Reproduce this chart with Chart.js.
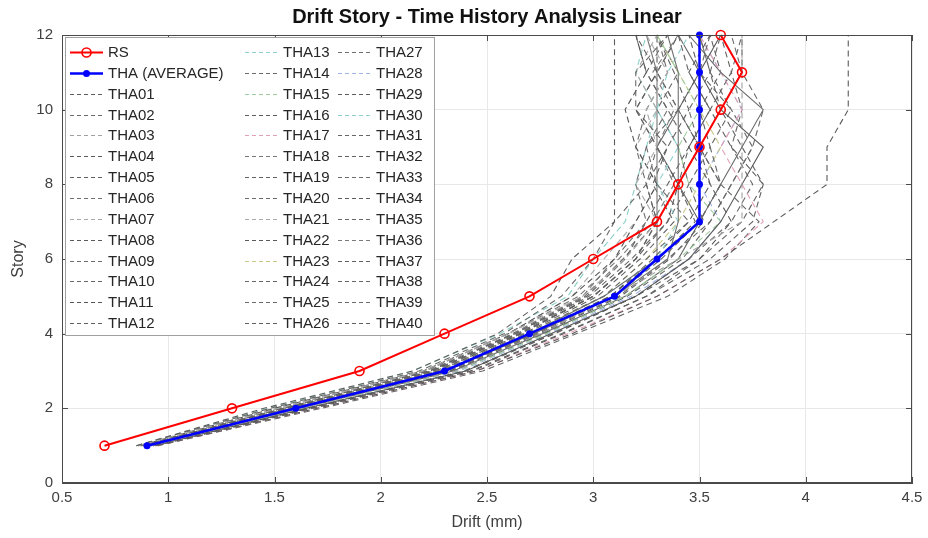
<!DOCTYPE html>
<html>
<head>
<meta charset="utf-8">
<title>Drift Story</title>
<script src="https://cdn.jsdelivr.net/npm/chart.js@4.4.1/dist/chart.umd.min.js"></script>
<style>
  html, body { margin: 0; padding: 0; background: #fff; }
</style>
</head>
<body>
<canvas id="driftChart" width="928" height="538"></canvas>
<script>
// story levels (y axis)
const stories = [1, 2, 3, 4, 5, 6, 7, 8, 9, 10, 11, 12];
// drift (mm) per story
const rs     = [0.7, 1.3, 1.9, 2.3, 2.7, 3.0, 3.3, 3.4, 3.5, 3.6, 3.7, 3.6];
const thaAvg = [0.9, 1.6, 2.3, 2.7, 3.1, 3.3, 3.5, 3.5, 3.5, 3.5, 3.5, 3.5];
const xTicks = [0.5, 1, 1.5, 2, 2.5, 3, 3.5, 4, 4.5];

const tha01 = [0.85, 1.45, 2.15, 2.55, 2.80, 2.90, 3.10, 3.10, 3.10, 3.10, 3.10, 3.10];
const tha02 = [0.90, 1.60, 2.30, 2.70, 3.05, 3.30, 3.50, 3.60, 3.70, 3.80, 3.60, 3.45];
const tha03 = [0.92, 1.62, 2.35, 2.75, 3.10, 3.40, 3.70, 3.70, 3.70, 3.70, 3.70, 3.70];
const tha04 = [0.95, 1.70, 2.45, 2.90, 3.30, 3.60, 3.85, 4.10, 4.10, 4.20, 4.20, 4.20];
const tha05 = [0.88, 1.55, 2.25, 2.65, 3.00, 3.20, 3.30, 3.25, 3.35, 3.20, 3.30, 3.20];
const tha06 = [0.90, 1.58, 2.30, 2.70, 3.10, 3.35, 3.40, 3.40, 3.40, 3.40, 3.40, 3.35];
const tha07 = [0.86, 1.52, 2.20, 2.60, 2.95, 3.15, 3.30, 3.20, 3.30, 3.25, 3.35, 3.25];
const tha08 = [0.93, 1.65, 2.40, 2.80, 3.20, 3.45, 3.60, 3.70, 3.80, 3.60, 3.50, 3.60];
const tha09 = [0.89, 1.58, 2.28, 2.68, 3.05, 3.25, 3.45, 3.30, 3.25, 3.40, 3.30, 3.40];
const tha10 = [0.91, 1.60, 2.32, 2.72, 3.10, 3.30, 3.50, 3.60, 3.55, 3.65, 3.50, 3.55];
const tha11 = [0.87, 1.50, 2.20, 2.60, 2.90, 3.10, 3.20, 3.30, 3.20, 3.15, 3.25, 3.20];
const tha12 = [0.94, 1.68, 2.42, 2.85, 3.25, 3.55, 3.75, 3.80, 3.70, 3.60, 3.70, 3.70];
const tha13 = [0.90, 1.60, 2.30, 2.70, 3.05, 3.30, 3.40, 3.30, 3.40, 3.30, 3.35, 3.45];
const tha14 = [0.85, 1.48, 2.18, 2.58, 2.85, 3.00, 3.10, 3.25, 3.30, 3.20, 3.20, 3.35];
const tha15 = [0.92, 1.63, 2.36, 2.78, 3.15, 3.40, 3.60, 3.45, 3.40, 3.50, 3.40, 3.30];
const tha16 = [0.88, 1.56, 2.27, 2.66, 3.00, 3.20, 3.35, 3.40, 3.30, 3.20, 3.30, 3.30];
const tha17 = [0.95, 1.70, 2.45, 2.88, 3.30, 3.60, 3.80, 3.70, 3.60, 3.70, 3.60, 3.50];
const tha18 = [0.90, 1.60, 2.30, 2.72, 3.10, 3.30, 3.30, 3.30, 3.30, 3.30, 3.30, 3.25];
const tha19 = [0.87, 1.53, 2.23, 2.63, 2.97, 3.15, 3.25, 3.35, 3.45, 3.35, 3.25, 3.35];
const tha20 = [0.91, 1.61, 2.33, 2.74, 3.12, 3.35, 3.55, 3.65, 3.75, 3.80, 3.70, 3.65];
const tha21 = [0.86, 1.50, 2.20, 2.60, 2.90, 3.05, 3.20, 3.30, 3.20, 3.30, 3.20, 3.30];
const tha22 = [0.93, 1.66, 2.40, 2.82, 3.20, 3.50, 3.65, 3.55, 3.45, 3.55, 3.45, 3.55];
const tha23 = [0.89, 1.57, 2.27, 2.68, 3.05, 3.25, 3.40, 3.50, 3.60, 3.50, 3.40, 3.30];
const tha24 = [0.90, 1.62, 2.34, 2.76, 3.15, 3.40, 3.50, 3.40, 3.30, 3.40, 3.50, 3.40];
const tha25 = [0.88, 1.55, 2.24, 2.64, 2.98, 3.18, 3.35, 3.45, 3.40, 3.30, 3.40, 3.30];
const tha26 = [0.94, 1.67, 2.43, 2.86, 3.25, 3.50, 3.70, 3.80, 3.65, 3.55, 3.65, 3.60];
const tha27 = [0.87, 1.54, 2.22, 2.62, 2.95, 3.10, 3.25, 3.20, 3.25, 3.35, 3.25, 3.20];
const tha28 = [0.92, 1.64, 2.37, 2.79, 3.18, 3.45, 3.60, 3.50, 3.60, 3.70, 3.60, 3.50];
const tha29 = [0.90, 1.59, 2.29, 2.70, 3.08, 3.28, 3.45, 3.55, 3.50, 3.40, 3.50, 3.45];
const tha30 = [0.85, 1.47, 2.15, 2.56, 2.88, 3.00, 3.15, 3.20, 3.25, 3.30, 3.20, 3.25];
const tha31 = [0.95, 1.72, 2.48, 2.92, 3.35, 3.62, 3.78, 3.60, 3.50, 3.60, 3.55, 3.60];
const tha32 = [0.89, 1.56, 2.26, 2.67, 3.02, 3.22, 3.38, 3.28, 3.35, 3.45, 3.38, 3.30];
const tha33 = [0.91, 1.60, 2.31, 2.73, 3.10, 3.32, 3.50, 3.60, 3.50, 3.45, 3.55, 3.50];
const tha34 = [0.88, 1.54, 2.24, 2.65, 3.00, 3.20, 3.30, 3.40, 3.50, 3.40, 3.30, 3.40];
const tha35 = [0.93, 1.65, 2.39, 2.81, 3.20, 3.45, 3.65, 3.75, 3.65, 3.70, 3.65, 3.70];
const tha36 = [0.86, 1.52, 2.21, 2.60, 2.93, 3.12, 3.28, 3.38, 3.30, 3.38, 3.28, 3.40];
const tha37 = [0.90, 1.60, 2.31, 2.71, 3.08, 3.30, 3.48, 3.40, 3.45, 3.55, 3.45, 3.40];
const tha38 = [0.92, 1.63, 2.35, 2.77, 3.16, 3.42, 3.55, 3.65, 3.75, 3.65, 3.55, 3.50];
const tha39 = [0.87, 1.53, 2.23, 2.63, 2.96, 3.14, 3.30, 3.25, 3.20, 3.25, 3.35, 3.30];
const tha40 = [0.91, 1.62, 2.33, 2.75, 3.13, 3.36, 3.52, 3.45, 3.55, 3.50, 3.60, 3.55];

const thaRuns = [tha01, tha02, tha03, tha04, tha05, tha06, tha07, tha08, tha09, tha10,
                 tha11, tha12, tha13, tha14, tha15, tha16, tha17, tha18, tha19, tha20,
                 tha21, tha22, tha23, tha24, tha25, tha26, tha27, tha28, tha29, tha30,
                 tha31, tha32, tha33, tha34, tha35, tha36, tha37, tha38, tha39, tha40];
const thaLabels = thaRuns.map((_, i) => 'THA' + String(i + 1).padStart(2, '0'));

// line colours for the runs, mostly greys with a few faint tints
const thaColors = ['#5e5e5e', '#6a6a6a', '#a0a0a0', '#5a5a5a', '#626262', '#707070', '#a8a8a8', '#5a5a5a',
                   '#6c6c6c', '#666666', '#555555', '#606060', '#8fd0d0', '#6a6a6a', '#9fcf9f', '#5e5e5e',
                   '#e2a0b6', '#777777', '#636363', '#6a6a6a', '#aaaaaa', '#5a5a5a', '#c9c98a', '#656565',
                   '#6a6a6a', '#606060', '#707070', '#a0b4e6', '#5e5e5e', '#8ad0c8', '#666666', '#626262',
                   '#6c6c6c', '#5c5c5c', '#686868', '#7a7a7a', '#606060', '#656565', '#6a6a6a', '#606060'];
const solidRuns = [1, 5, 7, 17, 23];

const FONT = '"Liberation Sans", Arial, Helvetica, sans-serif';
const toPoints = vals => vals.map((v, i) => ({ x: v, y: stories[i] }));

const datasets = [
  {
    label: 'RS', data: toPoints(rs), showLine: true, clip: false,
    borderColor: '#ff0000', borderWidth: 2,
    pointRadius: 4.5, pointBorderWidth: 1.6, pointBackgroundColor: 'rgba(255,255,255,0)', pointBorderColor: '#ff0000'
  },
  {
    label: 'THA (AVERAGE)', data: toPoints(thaAvg), showLine: true, clip: false,
    borderColor: '#0000ff', borderWidth: 2.5,
    pointRadius: 3.5, pointBorderWidth: 0, pointBackgroundColor: '#0000ff'
  }
];
thaRuns.forEach((run, i) => {
  datasets.push({
    label: thaLabels[i], data: toPoints(run), showLine: true, clip: false,
    borderColor: thaColors[i], borderWidth: 1.1,
    borderDash: solidRuns.includes(i) ? [] : [6, 4],
    pointRadius: 0
  });
});

// title, box, inward ticks and the three-column legend
const matlabFrame = {
  id: 'matlabFrame',
  afterDatasetsDraw(chart) {
    const { ctx, chartArea: a, scales } = chart;
    ctx.save();
    ctx.strokeStyle = '#4a4a4a';
    ctx.lineWidth = 1;
    ctx.strokeRect(a.left + 0.5, a.top + 0.5, a.right - a.left - 1, a.bottom - a.top - 1);
    ctx.beginPath();
    scales.x.ticks.forEach(t => {
      const px = Math.round(scales.x.getPixelForValue(t.value)) + 0.5;
      ctx.moveTo(px, a.bottom); ctx.lineTo(px, a.bottom - 6);
      ctx.moveTo(px, a.top); ctx.lineTo(px, a.top + 6);
    });
    scales.y.ticks.forEach(t => {
      const py = Math.round(scales.y.getPixelForValue(t.value)) + 0.5;
      ctx.moveTo(a.left, py); ctx.lineTo(a.left + 6, py);
      ctx.moveTo(a.right, py); ctx.lineTo(a.right - 6, py);
    });
    ctx.stroke();
    ctx.restore();
  },
  afterDraw(chart) {
    const { ctx, chartArea: a } = chart;
    ctx.save();
    // title
    ctx.fillStyle = '#111';
    ctx.font = 'bold 20px ' + FONT;
    ctx.textAlign = 'center';
    ctx.textBaseline = 'middle';
    ctx.fillText('Drift Story - Time History Analysis Linear', (a.left + a.right) / 2, 17);

    // legend box
    const box = { left: a.left + 3, top: a.top + 2, right: 435, bottom: 336 };
    ctx.fillStyle = '#fff';
    ctx.fillRect(box.left, box.top, box.right - box.left, box.bottom - box.top);
    ctx.strokeStyle = '#a0a0a0';
    ctx.lineWidth = 1;
    ctx.strokeRect(box.left + 0.5, box.top + 0.5, box.right - box.left - 1, box.bottom - box.top - 1);

    const colX = [70, 245, 338];
    const rowH = 20.85, firstY = 52, lineLen = 33, perCol = 14;
    ctx.font = '15px ' + FONT;
    ctx.textAlign = 'left';
    chart.data.datasets.forEach((ds, i) => {
      const col = Math.floor(i / perCol);
      const y = Math.round(firstY + (i % perCol) * rowH) + 0.5;
      const x0 = colX[col];
      ctx.strokeStyle = ds.borderColor;
      ctx.lineWidth = ds.borderWidth;
      ctx.setLineDash(i < 2 ? [] : [4, 3]);
      ctx.beginPath();
      ctx.moveTo(x0, y); ctx.lineTo(x0 + lineLen, y);
      ctx.stroke();
      ctx.setLineDash([]);
      if (i < 2) {
        ctx.beginPath();
        ctx.arc(x0 + lineLen / 2, y, ds.pointRadius, 0, Math.PI * 2);
        if (i === 0) { ctx.lineWidth = ds.pointBorderWidth; ctx.stroke(); }
        else { ctx.fillStyle = ds.pointBackgroundColor; ctx.fill(); }
      }
      ctx.fillStyle = '#262626';
      ctx.fillText(ds.label, x0 + lineLen + 5, y);
    });
    ctx.restore();
  }
};

const tickFont = { family: FONT, size: 15 };
const noPad = s => { s.paddingLeft = 0; s.paddingRight = 0; s.paddingTop = 0; s.paddingBottom = 0; };

new Chart(document.getElementById('driftChart').getContext('2d'), {
  type: 'scatter',
  data: { datasets },
  options: {
    responsive: false,
    animation: false,
    devicePixelRatio: 1,
    layout: { padding: { top: 35, right: 16, left: 0, bottom: 0 } },
    plugins: { legend: { display: false }, tooltip: { enabled: false } },
    scales: {
      x: {
        type: 'linear', min: xTicks[0], max: xTicks[xTicks.length - 1],
        afterBuildTicks: s => { s.ticks = xTicks.map(v => ({ value: v })); },
        ticks: { padding: 6, color: '#404040', font: tickFont, callback: v => String(v) },
        grid: { color: '#e8e8e8', drawTicks: false },
        border: { color: '#4a4a4a' },
        title: { display: true, text: 'Drift (mm)', color: '#404040', font: { family: FONT, size: 16 }, padding: { top: 0, bottom: 6 } },
        afterFit: s => { s.height = 55; noPad(s); }
      },
      y: {
        type: 'linear', min: 0, max: 12,
        ticks: { stepSize: 2, padding: 9, color: '#404040', font: tickFont },
        grid: { color: '#e8e8e8', drawTicks: false },
        border: { color: '#4a4a4a' },
        title: { display: true, text: 'Story', color: '#404040', font: { family: FONT, size: 16 }, padding: { top: 9, bottom: 0 } },
        afterFit: s => { s.width = 62; noPad(s); }
      }
    }
  },
  plugins: [matlabFrame]
});
</script>
</body>
</html>
